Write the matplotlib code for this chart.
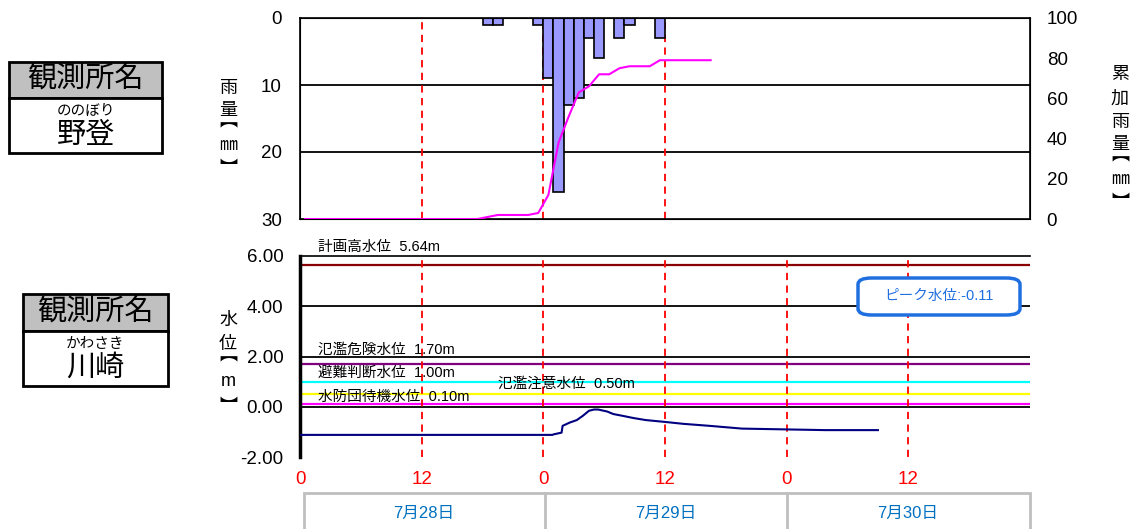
import numpy as np
import matplotlib
matplotlib.use('Agg')
from matplotlib import pyplot as plt
from matplotlib.patches import Rectangle, FancyBboxPatch

plt.rcParams['font.family'] = ['Liberation Sans', 'Noto Sans CJK JP', 'DejaVu Sans']
plt.rcParams['axes.unicode_minus'] = False

# hourly rainfall (hour index from 7/28 0:00) [mm]
rain_hours = [18, 19, 23, 24, 25, 26, 27, 28, 29, 31, 32, 35]
rain_mm = [1, 1, 1, 9, 26, 13, 12, 3, 6, 3, 1, 3]

# cumulative rainfall, plotted at bar centres up to hour 40
cum_hours = list(range(0, 41))
cum_mm = [0]*18 + [1, 2, 2, 2, 2, 3, 12, 38, 51, 63, 66, 72, 72, 75, 76, 76, 76, 79, 79, 79, 79, 79, 79]

# water level [m]
wl_hours = [0, 24.9, 25.0, 25.8, 25.9, 26.6, 27.3, 27.9, 28.5, 29.0, 29.4, 30.3, 30.9,
            31.8, 32.9, 34.1, 35.9, 37.8, 40.4, 43.6, 51.8, 57.0]
wl_m = [-1.12, -1.12, -1.10, -1.03, -0.76, -0.63, -0.53, -0.36, -0.16, -0.11, -0.11, -0.19, -0.29,
        -0.36, -0.45, -0.53, -0.60, -0.68, -0.76, -0.87, -0.93, -0.93]

# reference levels
lv_names = ['計画高水位  5.64m', '氾濫危険水位  1.70m', '避難判断水位  1.00m', '氾濫注意水位  0.50m', '水防団待機水位  0.10m']
lv_vals = [5.64, 1.70, 1.00, 0.50, 0.10]
lv_cols = ['#8B0000', '#800080', '#00FFFF', '#FFFF00', '#FF00FF']

day_labels = ['7月28日', '7月29日', '7月30日']
peak_text = 'ピーク水位:-0.11'

W, H = 1143, 529
fig = plt.figure(figsize=(W/100, H/100), dpi=100)

def fx(x): return x / W
def fy(y): return 1 - y / H

# ---- rainfall panel
ax1 = fig.add_axes([fx(300), fy(219), fx(1030)-fx(300), fy(18)-fy(219)])
ax1.bar(np.array(rain_hours)+0.5, rain_mm, width=1.0, color='#9999FF', edgecolor='black', lw=1.2, zorder=3)
ax1.set_xlim(0, 72)
ax1.set_ylim(30, 0)
ax1.set_yticks([0, 10, 20, 30])
ax1.set_xticks([])
for yy in [10, 20]:
    ax1.axhline(yy, color='black', lw=1.3, zorder=1)
for xx in [12, 24, 36]:
    ax1.axvline(xx, color='red', ls=(0, (4, 3)), lw=1.3, zorder=2)
ax1.tick_params(axis='y', length=0, labelsize=13.5, pad=13)
for s in ax1.spines.values():
    s.set_linewidth(1.2)

ax1b = ax1.twinx()
ax1b.plot(np.array(cum_hours)+0.5, cum_mm, color='#FF00FF', lw=1.5, zorder=4)
ax1b.set_ylim(0, 100)
ax1b.set_yticks([0, 20, 40, 60, 80, 100])
ax1b.tick_params(axis='y', length=0, labelsize=13.5, pad=12)

# ---- water level panel
ax2 = fig.add_axes([fx(300), fy(457), fx(1030)-fx(300), fy(256)-fy(457)])
ax2.set_xlim(0, 72)
ax2.set_ylim(-2, 6)
ax2.set_yticks([-2, 0, 2, 4, 6])
ax2.set_yticklabels(['%.2f' % v for v in [-2, 0, 2, 4, 6]])
for yy in [0, 2, 4]:
    ax2.axhline(yy, color='black', lw=1.3, zorder=1)
for v, c in zip(lv_vals, lv_cols):
    ax2.axhline(v, color=c, lw=1.6, zorder=2)
for xx in [12, 24, 36, 48, 60]:
    ax2.axvline(xx, color='red', ls=(0, (4, 3)), lw=1.3, zorder=3)
ax2.plot(wl_hours, wl_m, color='#000080', lw=1.5, zorder=4)
ax2.set_xticks([0, 12, 24, 36, 48, 60])
ax2.set_xticklabels(['0', '12', '0', '12', '0', '12'], color='red')
ax2.tick_params(axis='x', length=0, labelsize=13.5, pad=10)
ax2.tick_params(axis='y', length=0, labelsize=13.5, pad=12)
ax2.spines['left'].set_linewidth(2.5)
for k in ['top', 'right', 'bottom']:
    ax2.spines[k].set_linewidth(1.2)
ax2.spines['right'].set_visible(False)
ax2.spines['bottom'].set_visible(False)

# level labels
lab_pos = [(318, 247), (318, 350), (318, 373), (498, 384), (318, 397)]
for t, (x, y) in zip(lv_names, lab_pos):
    fig.text(fx(x), fy(y), t, fontsize=10.5, ha='left', va='center')

# peak box
fig.patches.append(FancyBboxPatch((fx(858), fy(315)), fx(1020)-fx(858), fy(278)-fy(315),
                                  boxstyle='round,pad=0,rounding_size=0.012', transform=fig.transFigure,
                                  fc='white', ec='#1F6FE0', lw=2.5, zorder=5))
fig.text(fx(939), fy(296), peak_text, fontsize=10.5, color='#1F6FE0', ha='center', va='center', zorder=6)

# axis labels (vertical writing, one glyph at a time)
def vlabel(x, chars, ys):
    for c, y in zip(chars, ys):
        fig.text(fx(x), fy(y), c, fontsize=13, ha='center', va='center')

vlabel(228, ['雨', '量', '︻', '㎜', '︼'], [88, 111, 122, 146, 170])
vlabel(1120, ['累', '加', '雨', '量', '︻', '㎜', '︼'], [75, 99, 122, 145, 156, 180, 204])
vlabel(228, ['水', '位', '︻', 'm', '︼'], [320, 345, 356, 382, 408])

# station boxes
def station(x0, x1, y0, ym, y1, kana, name, kana_y, name_y):
    fig.patches.append(Rectangle((fx(x0), fy(ym)), fx(x1)-fx(x0), fy(y0)-fy(ym), transform=fig.transFigure,
                                 fc='#C0C0C0', ec='black', lw=2))
    fig.patches.append(Rectangle((fx(x0), fy(y1)), fx(x1)-fx(x0), fy(ym)-fy(y1), transform=fig.transFigure,
                                 fc='white', ec='black', lw=2))
    xc = fx((x0 + x1) / 2)
    fig.text(xc, fy((y0 + ym) / 2), '観測所名', fontsize=21, ha='center', va='center')
    fig.text(xc, fy(kana_y), kana, fontsize=10.5, ha='center', va='center')
    fig.text(xc, fy(name_y), name, fontsize=21, ha='center', va='center')

station(9, 162, 62, 98, 153, 'ののぼり', '野登', 111, 135)
station(23, 168, 294, 331, 386, 'かわさき', '川崎', 344, 368)

# date boxes
fig.patches.append(Rectangle((fx(304), fy(540)), fx(1030)-fx(304), fy(493)-fy(540), transform=fig.transFigure,
                             fc='white', ec='#BFBFBF', lw=2))
for xd in [545, 787]:
    fig.add_artist(plt.Line2D([fx(xd), fx(xd)], [fy(493), 0], color='#BFBFBF', lw=2))
for t, xc in zip(day_labels, [424, 666, 908]):
    fig.text(fx(xc), fy(513), t, fontsize=12, color='#0070C0', ha='center', va='center')

fig.savefig('out.png', dpi=100)
